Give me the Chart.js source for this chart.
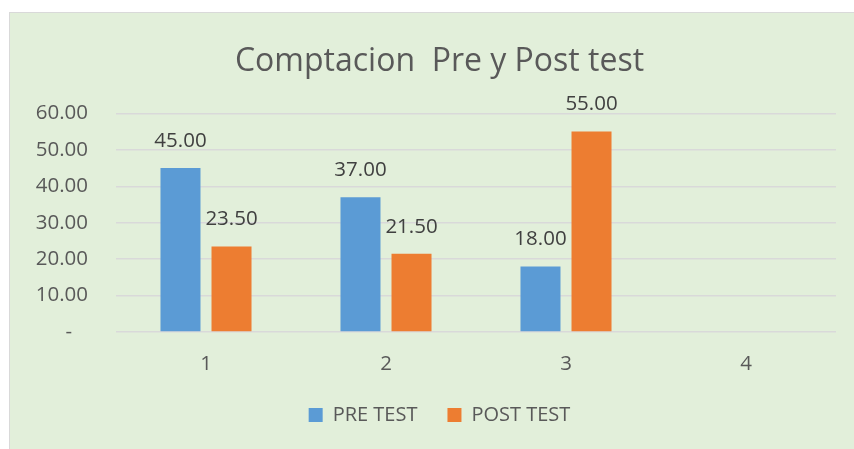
<!DOCTYPE html>
<html>
<head>
<meta charset="utf-8">
<script src="https://cdn.jsdelivr.net/npm/chart.js@4/dist/chart.umd.min.js"></script>
<style>
  html,body{margin:0;padding:0;background:#fff;overflow:hidden;}
  #box{position:absolute;left:9px;top:12px;width:845px;height:436px;overflow:hidden;
       border-left:1px solid #d9d9d9;border-top:1px solid #d9d9d9;background:#e2efda;}
  canvas{display:block;}
</style>
</head>
<body>
<div id="box"><canvas id="chart" width="845" height="436"></canvas></div>
<script>
/* ---------- данные ---------- */
const categories = ['1', '2', '3', '4'];
const preTest    = [45, 37, 18, null];
const postTest   = [23.5, 21.5, 55, null];
const seriesNames = ['PRE TEST', 'POST TEST'];
const titleText  = 'Comptacion  Pre y Post test';

const FONT = "'Open Sans', sans-serif";
const GREY = '#595959';

/* ---------- подписи над столбцами ---------- */
const valueLabels = {
  id: 'valueLabels',
  afterDatasetsDraw(chart){
    const ctx = chart.ctx;
    ctx.save();
    ctx.font = `20.5px ${FONT}`;
    ctx.fillStyle = '#404040';
    ctx.textAlign = 'center';
    ctx.textBaseline = 'middle';
    chart.data.datasets.forEach((ds, i) => {
      chart.getDatasetMeta(i).data.forEach((bar, j) => {
        const v = ds.data[j];
        if(v == null) return;
        ctx.fillText(v.toFixed(2), bar.x, bar.y - 27);
      });
    });
    ctx.restore();
  }
};

new Chart(document.getElementById('chart'), {
  type: 'bar',
  data: {
    labels: categories,
    datasets: [
      {label: seriesNames[0], data: preTest,  backgroundColor: '#5b9bd5'},
      {label: seriesNames[1], data: postTest, backgroundColor: '#ed7d31'}
    ]
  },
  options: {
    responsive: false,
    animation: false,
    categoryPercentage: 0.567,
    barPercentage: 0.784,
    layout: {padding: {top: 18, right: 0, bottom: 14, left: 14}},
    plugins: {
      title: {
        display: true, text: titleText, color: GREY,
        font: {family: FONT, size: 32, weight: 'normal'},
        padding: {top: 12, bottom: 32}
      },
      legend: {
        position: 'bottom',
        labels: {
          color: GREY, font: {family: FONT, size: 20},
          boxWidth: 14, boxHeight: 14, padding: 30
        }
      },
      tooltip: {enabled: false}
    },
    scales: {
      x: {
        afterFit: s => { s.height = 43; },
        grid: {display: false},
        border: {display: false},
        ticks: {color: GREY, font: {family: FONT, size: 20.5}, padding: 12}
      },
      y: {
        min: 0, max: 60,
        afterFit: s => { s.width = 92; },
        grid: {color: '#d9d9d9', lineWidth: 1.5, drawTicks: false},
        border: {display: false},
        ticks: {
          stepSize: 10, color: GREY, padding: 28,
          font: {family: FONT, size: 20.5},
          callback: v => v === 0 ? '-   ' : v.toFixed(2)
        }
      },
      // пустая правая ось — только отступ справа
      yRight: {
        position: 'right', min: 0, max: 60,
        afterFit: s => { s.width = 19; },
        grid: {display: false}, border: {display: false},
        ticks: {display: false}
      }
    }
  },
  plugins: [valueLabels]
});
</script>
</body>
</html>
